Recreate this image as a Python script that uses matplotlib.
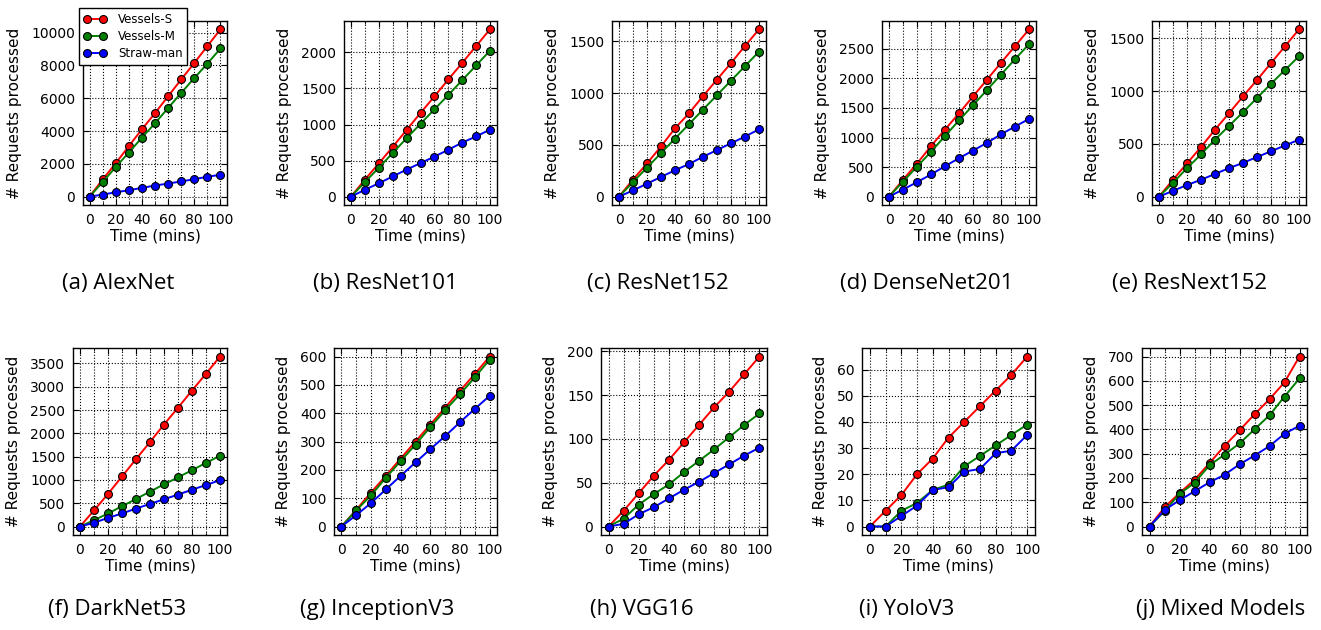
import matplotlib
matplotlib.use('Agg')
import matplotlib.pyplot as plt
from matplotlib.ticker import MultipleLocator

# time axis (mins)
times = [0, 10, 20, 30, 40, 50, 60, 70, 80, 90, 100]

models = ['(a) AlexNet', '(b) ResNet101', '(c) ResNet152', '(d) DenseNet201', '(e) ResNext152',
          '(f) DarkNet53', '(g) InceptionV3', '(h) VGG16', '(i) YoloV3', '(j) Mixed Models']

# requests processed, one row per model
vessels_s = [
    [0, 1045, 2035, 3080, 4105, 5090, 6120, 7145, 8150, 9180, 10200],
    [0, 235, 460, 690, 925, 1160, 1390, 1625, 1855, 2090, 2320],
    [0, 165, 320, 485, 660, 805, 970, 1130, 1290, 1455, 1615],
    [0, 285, 560, 855, 1135, 1410, 1695, 1980, 2265, 2545, 2830],
    [0, 160, 315, 470, 635, 790, 950, 1105, 1265, 1425, 1585],
    [0, 345, 700, 1075, 1445, 1815, 2190, 2550, 2920, 3280, 3650],
    [0, 59, 120, 179, 240, 300, 360, 420, 479, 538, 600],
    [0, 18, 38, 58, 76, 96, 116, 136, 154, 174, 194],
    [0, 6, 12, 20, 26, 34, 40, 46, 52, 58, 65],
    [0, 79, 138, 192, 261, 332, 396, 462, 524, 594, 700],
]
vessels_m = [
    [0, 885, 1805, 2690, 3595, 4475, 5400, 6325, 7230, 8110, 9035],
    [0, 200, 400, 605, 810, 1010, 1210, 1410, 1615, 1820, 2025],
    [0, 140, 280, 420, 560, 700, 840, 980, 1120, 1260, 1400],
    [0, 255, 505, 760, 1025, 1290, 1545, 1805, 2065, 2325, 2580],
    [0, 130, 270, 400, 540, 670, 800, 935, 1070, 1200, 1330],
    [0, 135, 280, 435, 590, 750, 905, 1055, 1210, 1365, 1520],
    [0, 57, 110, 172, 231, 289, 351, 410, 467, 526, 589],
    [0, 9, 25, 37, 48, 62, 75, 88, 102, 116, 129],
    [0, 0, 6, 9, 14, 16, 23, 27, 31, 35, 39],
    [0, 63, 134, 180, 252, 296, 342, 400, 458, 535, 610],
]
straw_man = [
    [0, 125, 265, 390, 535, 675, 800, 925, 1065, 1210, 1335],
    [0, 95, 185, 280, 375, 465, 555, 650, 750, 835, 930],
    [0, 60, 125, 190, 255, 315, 385, 450, 515, 580, 650],
    [0, 120, 245, 375, 515, 650, 780, 910, 1055, 1185, 1315],
    [0, 55, 110, 160, 215, 270, 320, 375, 430, 485, 540],
    [0, 80, 185, 280, 385, 485, 585, 685, 790, 890, 995],
    [0, 40, 83, 131, 179, 226, 273, 319, 368, 415, 461],
    [0, 3, 14, 22, 32, 42, 51, 61, 71, 81, 90],
    [0, 0, 4, 8, 14, 15, 21, 22, 28, 29, 35],
    [0, 68, 108, 145, 182, 213, 256, 292, 331, 382, 415],
]

y_steps = [2000, 500, 500, 500, 500, 500, 100, 50, 10, 100]

W, H = 1321, 630
# axes boxes in pixels: left, right, top, bottom
boxes = [(83, 227, 21, 205), (344, 497, 21, 205), (612, 766, 21, 205),
         (882, 1036, 21, 205), (1152, 1306, 21, 205),
         (73, 227, 348, 535), (334, 497, 348, 535), (601, 767, 348, 535),
         (862, 1035, 348, 535), (1142, 1307, 348, 535)]
caption_x = [118, 385, 658, 927, 1190, 117, 377, 642, 907, 1221]
caption_y = [284, 284, 284, 284, 284, 609, 609, 609, 609, 609]

plt.rcParams['font.family'] = 'DejaVu Sans'
plt.rcParams['font.size'] = 10

fig = plt.figure(figsize=(W / 100, H / 100), dpi=100)

for i in range(10):
    l, r, t, b = boxes[i]
    ax = fig.add_axes([l / W, 1 - b / H, (r - l) / W, (b - t) / H])
    ax.plot(times, vessels_s[i], color='r', marker='o', markersize=5.7,
            markeredgecolor='k', markeredgewidth=0.8, lw=1.4, label='Vessels-S')
    ax.plot(times, vessels_m[i], color='g', marker='o', markersize=5.7,
            markeredgecolor='k', markeredgewidth=0.8, lw=1.4, label='Vessels-M')
    ax.plot(times, straw_man[i], color='b', marker='o', markersize=5.7,
            markeredgecolor='k', markeredgewidth=0.8, lw=1.4, label='Straw-man')
    ax.margins(0.05)
    ax.xaxis.set_major_locator(MultipleLocator(20))
    ax.xaxis.set_minor_locator(MultipleLocator(10))
    ax.yaxis.set_major_locator(MultipleLocator(y_steps[i]))
    ax.grid(True, which='major', ls=':', color='k', lw=0.8)
    ax.grid(True, which='minor', axis='x', ls=':', color='k', lw=0.8)
    ax.tick_params(which='both', direction='in', top=True, right=True, labelsize=10, pad=5.5)
    ax.tick_params(which='major', length=4)
    ax.tick_params(which='minor', length=2)
    for sp in ax.spines.values():
        sp.set_linewidth(1.0)
    ax.set_xlabel('Time (mins)', fontsize=11, labelpad=1.5)
    ax.set_ylabel('# Requests processed', fontsize=11, labelpad=6.5)
    fig.text(caption_x[i] / W, 1 - caption_y[i] / H, models[i], fontsize=16,
             family='Open Sans', ha='center', va='center')
    if i == 0:
        ax.legend(loc='upper left', bbox_to_anchor=(79 / W, 1 - 8 / H),
                  bbox_transform=fig.transFigure, borderaxespad=0, fontsize=8.5,
                  numpoints=2, fancybox=False, framealpha=1, edgecolor='k',
                  handlelength=1.9, handletextpad=1.0, borderpad=0.4,
                  labelspacing=0.35)

fig.savefig('out.png', dpi=100, facecolor='white')
